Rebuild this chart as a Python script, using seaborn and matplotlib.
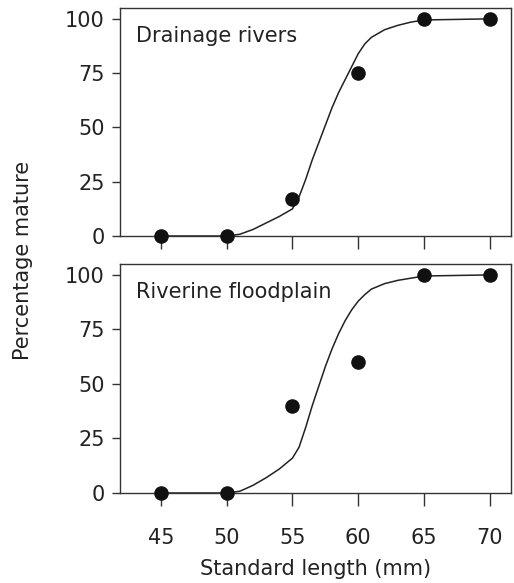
import matplotlib
matplotlib.use("Agg")
import matplotlib.pyplot as plt
import seaborn as sns
import pandas as pd

sns.set_theme(style="white")
plt.rcParams['font.family'] = ['DejaVu Sans']

# Observed data
length_mm = [45, 50, 55, 60, 65, 70]
drainage_pct = [0, 0, 17, 75, 100, 100]
floodplain_pct = [0, 0, 40, 60, 100, 100]

# Fitted curves
curve_x = [45, 50, 51, 52, 53, 54, 55, 55.5, 56, 56.5, 57, 57.5, 58, 58.5,
           59, 59.5, 60, 60.5, 61, 62, 63, 64, 65, 70]
drainage_fit = [0, 0, 0.8, 3, 6, 9, 12.5, 18, 26, 35, 43, 51, 59, 66,
                72, 78, 84, 88.5, 91.5, 95, 97, 98.5, 99.5, 100]
floodplain_fit = [0, 0, 0.8, 3.5, 7, 11, 16, 21, 30, 40, 49, 58, 66, 73,
                  79, 84, 88, 91, 93.5, 96, 97.5, 98.5, 99.5, 100]

panel_names = ["Drainage rivers", "Riverine floodplain"]
x_ticks = [45, 50, 55, 60, 65, 70]
y_ticks = [0, 25, 50, 75, 100]

W, H = 514, 583
fig = plt.figure(figsize=(W / 100, H / 100), dpi=100)
fig.patch.set_facecolor("white")

ink = "#222222"
fs = 15
left, right = 120 / W, 511 / W
axes_px = [(8, 236), (264, 493)]

obs = [drainage_pct, floodplain_pct]
fits = [drainage_fit, floodplain_fit]

for i, (top, bot) in enumerate(axes_px):
    ax = fig.add_axes([left, 1 - bot / H, right - left, (bot - top) / H])
    ax.set_facecolor("white")
    sns.lineplot(x=curve_x, y=fits[i], ax=ax, color=ink, linewidth=1.1,
                 estimator=None, sort=False)
    sns.scatterplot(x=length_mm, y=obs[i], ax=ax, color="#111111", s=110,
                    edgecolor="#111111", linewidth=0, clip_on=False, zorder=5)
    ax.set_xlim(41.9, 71.6)
    ax.set_ylim(0, 105)
    ax.set_xticks(x_ticks)
    ax.set_yticks(y_ticks)
    for sp in ax.spines.values():
        sp.set_visible(True)
        sp.set_color("#333333")
        sp.set_linewidth(1.0)
    ax.tick_params(axis="y", direction="out", length=6, width=1, color="#333333",
                   labelsize=fs, labelcolor=ink, pad=5, left=True)
    ax.tick_params(axis="x", direction="out", length=9, width=1, color="#333333",
                   labelsize=fs, labelcolor=ink, pad=16, bottom=True)
    ax.set_xlabel("")
    ax.set_ylabel("")
    ax.text(0.04, 0.92, panel_names[i], transform=ax.transAxes,
            fontsize=fs, color=ink, ha="left", va="top")
    if i == 0:
        ax.set_xticklabels([])
    else:
        ax.set_xticklabels([str(v) for v in x_ticks])
        ax.set_xlabel("Standard length (mm)", fontsize=fs, color=ink, labelpad=8)

fig.text(23 / W, 1 - 260 / H, "Percentage mature", rotation=90, fontsize=fs,
         color=ink, ha="center", va="center")

fig.savefig("out.png", dpi=100, facecolor="white")
